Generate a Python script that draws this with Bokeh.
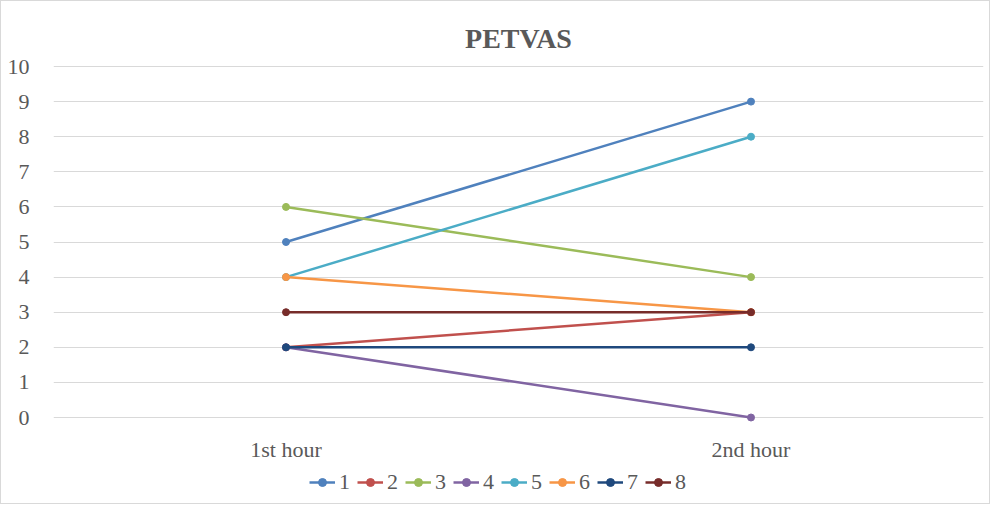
from bokeh.plotting import figure
from bokeh.models import Range1d, FactorRange, Legend, LegendItem, FixedTicker
from bokeh.core.properties import value
from bokeh.embed import file_html
from bokeh.resources import INLINE

hours = ["1st hour", "2nd hour"]
series_names = ["1", "2", "3", "4", "5", "6", "7", "8"]
s1 = [5, 9]
s2 = [2, 3]
s3 = [6, 4]
s4 = [2, 0]
s5 = [4, 8]
s6 = [4, 3]
s7 = [2, 2]
s8 = [3, 3]
series_values = [s1, s2, s3, s4, s5, s6, s7, s8]
colors = ["#4F81BD", "#C0504D", "#9BBB59", "#8064A2", "#4BACC6", "#F79646", "#1F497D", "#772C2A"]
y_ticks = list(range(0, 11))

FONT = "Liberation Serif"
TXT = "#595959"

p = figure(width=990, height=504, x_range=FactorRange(*hours, range_padding=0),
           y_range=Range1d(-2.507, 10.2), output_backend="svg", toolbar_location=None,
           min_border_left=52, min_border_right=8, min_border_top=58, min_border_bottom=0)
p.styles = {"border": "1px solid #d9d9d9"}
p.outline_line_color = None
p.background_fill_color = "white"
p.border_fill_color = "white"

p.title.text = "PETVAS"
p.title.align = "center"
p.title.offset = 15
p.title.text_font = FONT
p.title.text_font_size = "28px"
p.title.text_font_style = "bold"
p.title.text_color = TXT
p.title.standoff = 12

p.xaxis.visible = False
p.xgrid.grid_line_color = None
p.ygrid.grid_line_color = "#d9d9d9"
p.ygrid.grid_line_width = 1
p.yaxis.ticker = FixedTicker(ticks=y_ticks)

ax = p.yaxis[0]
ax.axis_line_color = None
ax.major_tick_line_color = None
ax.minor_tick_line_color = None
ax.major_label_text_font = FONT
ax.major_label_text_font_size = "22px"
ax.major_label_text_color = TXT
ax.major_label_standoff = 18

# category labels placed through the categorical scale, below the 0 line
p.text(x=hours, y=[-0.9] * len(hours), text=hours, text_font=value(FONT),
       text_font_size="22px", text_color=TXT, text_align="center", text_baseline="middle")

items = []
for name, vals, c in zip(series_names, series_values, colors):
    l = p.line(hours, vals, line_color=c, line_width=2.5)
    m = p.scatter(hours, vals, size=7, fill_color=c, line_color=c)
    items.append(LegendItem(label=name, renderers=[l, m]))

legend = Legend(items=items, orientation="horizontal", location=(256, 10),
                label_text_font=FONT, label_text_font_size="22px", label_text_color=TXT,
                border_line_color=None, background_fill_alpha=0, margin=0, padding=10,
                glyph_width=26, label_standoff=4, label_width=12, spacing=6)
p.add_layout(legend, "center")

open("out.html", "w").write(file_html(p, INLINE))
